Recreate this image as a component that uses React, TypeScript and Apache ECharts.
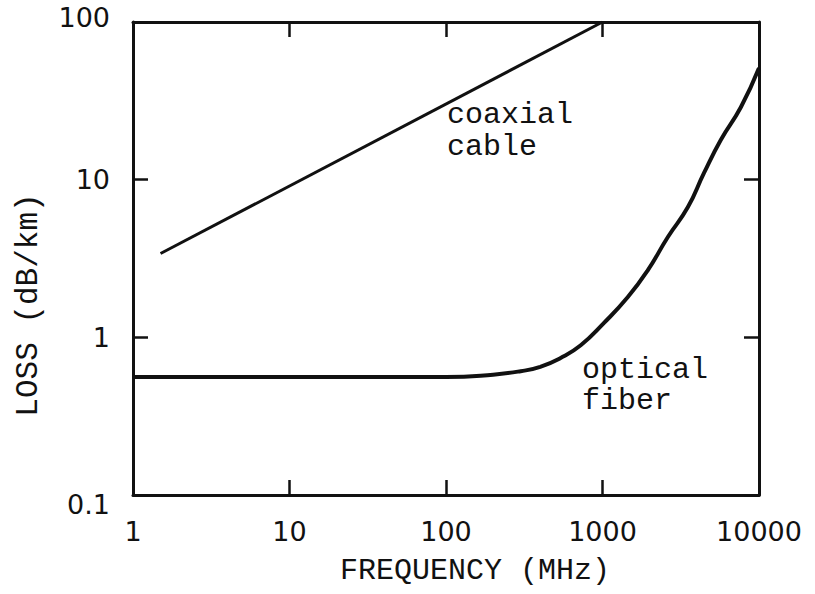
import React, { useEffect, useRef } from "react";
import * as echarts from "echarts";

const xTickLabels = ["1", "10", "100", "1000", "10000"];
const yTickLabels = ["0.1", "1", "10", "100"];
const coaxFreq = [1.5, 1000];
const coaxLoss = [3.4, 100];
const fiberFreq = [1, 10, 100, 200, 300, 400, 540, 726, 1019, 1452, 1950, 2617, 3514, 4446, 5710, 7670, 10000];
const fiberLoss = [0.56, 0.56, 0.56, 0.58, 0.61, 0.65, 0.74, 0.89, 1.23, 1.8, 2.67, 4.33, 6.7, 11, 17.9, 28.9, 51];
const xTitle = "FREQUENCY (MHz)";
const yTitle = "LOSS (dB/km)";
const coaxLabel = ["coaxial", "cable"];
const fiberLabel = ["optical", "fiber"];

const INK = "#111";
const MONO = "'Liberation Mono', 'DejaVu Sans Mono', monospace";
const SANS = "'DejaVu Sans', sans-serif";

export default function App() {
  const ref = useRef<HTMLDivElement>(null);
  useEffect(() => {
    if (!ref.current) return;
    const chart = echarts.init(ref.current, undefined, { renderer: "svg" });
    const axisCommon = {
      type: "log" as const,
      logBase: 10,
      axisLine: { show: true, lineStyle: { color: INK, width: 3 } },
      axisTick: { show: true, inside: true, length: 15, lineStyle: { color: INK, width: 2.5 } },
      minorTick: { show: false },
      splitLine: { show: false },
    };
    chart.setOption({
      animation: false,
      backgroundColor: "#fff",
      grid: { left: 133, top: 22, right: 56, bottom: 99 },
      xAxis: [
        {
          ...axisCommon,
          position: "bottom",
          min: 1,
          max: 10000,
          axisLabel: {
            show: true,
            margin: 23,
            fontFamily: SANS,
            fontSize: 27,
            color: INK,
            formatter: (v: number) => xTickLabels[Math.round(Math.log10(v))] ?? "",
          },
        },
        {
          ...axisCommon,
          position: "top",
          min: 1,
          max: 10000,
          axisLabel: { show: false },
        },
      ],
      yAxis: [
        {
          ...axisCommon,
          position: "left",
          min: 0.1,
          max: 100,
          axisLabel: {
            show: true,
            margin: 23,
            fontFamily: SANS,
            fontSize: 27,
            color: INK,
            formatter: (v: number) => {
              const i = Math.round(Math.log10(v)) + 1;
              const t = yTickLabels[i] ?? "";
              if (i === 0) return `{lo|${t}}`;
              if (i === yTickLabels.length - 1) return `{hi|${t}}`;
              return t;
            },
            rich: {
              lo: { fontFamily: SANS, fontSize: 27, color: INK, padding: [18, 0, 0, 0] },
              hi: { fontFamily: SANS, fontSize: 27, color: INK, padding: [0, 0, 10, 0] },
            },
          },
        },
        {
          ...axisCommon,
          position: "right",
          min: 0.1,
          max: 100,
          axisLabel: { show: false },
        },
      ],
      series: [
        {
          type: "line",
          name: "coaxial cable",
          xAxisIndex: 0,
          yAxisIndex: 0,
          showSymbol: false,
          data: coaxFreq.map((f, i) => [f, coaxLoss[i]]),
          lineStyle: { color: INK, width: 3 },
        },
        {
          type: "line",
          name: "optical fiber",
          xAxisIndex: 0,
          yAxisIndex: 0,
          showSymbol: false,
          smooth: 0.5,
          data: fiberFreq.map((f, i) => [f, fiberLoss[i]]),
          lineStyle: { color: INK, width: 4 },
        },
      ],
      graphic: [
        {
          type: "text",
          x: 475,
          y: 571,
          style: { text: xTitle, font: `30px ${MONO}`, fill: INK, align: "center", verticalAlign: "middle" },
        },
        {
          type: "text",
          x: 28,
          y: 305,
          rotation: Math.PI / 2,
          style: { text: yTitle, font: `31px ${MONO}`, fill: INK, align: "center", verticalAlign: "middle" },
        },
        {
          type: "text",
          x: 447,
          y: 115,
          style: { text: coaxLabel[0], font: `30px ${MONO}`, fill: INK, align: "left", verticalAlign: "middle" },
        },
        {
          type: "text",
          x: 447,
          y: 147,
          style: { text: coaxLabel[1], font: `30px ${MONO}`, fill: INK, align: "left", verticalAlign: "middle" },
        },
        {
          type: "text",
          x: 582,
          y: 370,
          style: { text: fiberLabel[0], font: `30px ${MONO}`, fill: INK, align: "left", verticalAlign: "middle" },
        },
        {
          type: "text",
          x: 582,
          y: 401,
          style: { text: fiberLabel[1], font: `30px ${MONO}`, fill: INK, align: "left", verticalAlign: "middle" },
        },
      ],
    });
    return () => chart.dispose();
  }, []);
  return <div ref={ref} style={{ width: 815, height: 594, position: "absolute", left: 0, top: 0 }} />;
}
